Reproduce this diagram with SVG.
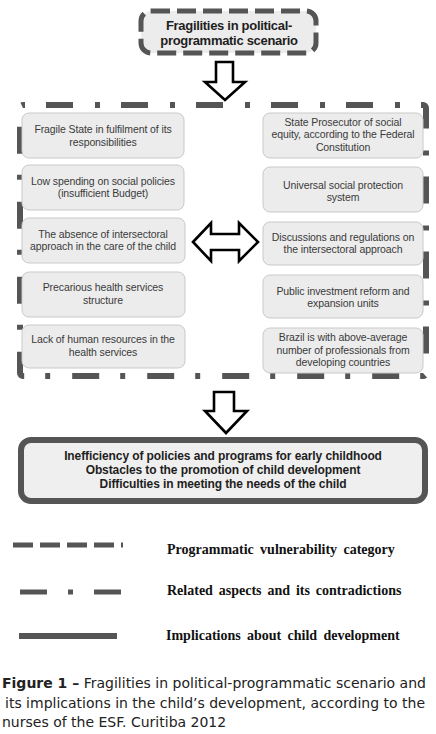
<svg xmlns="http://www.w3.org/2000/svg" width="436" height="734" viewBox="0 0 436 734">
<style>
.bg{fill:#ffffff}
.item{fill:#ececec;stroke:#c9c9c9;stroke-width:1}
.it{font-family:"Liberation Sans",Arial,sans-serif;font-size:10.5px;fill:#3a3a3a;text-anchor:middle;letter-spacing:-0.1px}
.hb{font-family:"Liberation Sans",Arial,sans-serif;font-weight:bold;fill:#1e1e1e;text-anchor:middle}
.arrow{fill:#ffffff;stroke:#000000;stroke-width:2.6;stroke-linejoin:miter}
.leg{font-family:"Liberation Serif","Times New Roman",serif;font-weight:bold;font-size:14px;fill:#111}
.cap{font-family:"DejaVu Sans",Verdana,sans-serif;font-size:14px;fill:#222}
</style>
<rect class="bg" x="0" y="0" width="436" height="734"/>

<g id="top">
<rect x="141" y="11" width="175" height="42" rx="10" fill="#ececec" stroke="#555" stroke-width="5" stroke-dasharray="19 7"/>
<text class="hb" font-size="13" letter-spacing="-0.3" x="229" y="30">Fragilities in political-</text>
<text class="hb" font-size="13" letter-spacing="-0.3" x="229" y="45">programmatic scenario</text>
</g>

<g id="frame">
<rect x="20" y="105" width="406" height="271" rx="3" fill="none" stroke="#555" stroke-width="6" stroke-dasharray="27 22 5 21" stroke-dashoffset="52"/>
</g>

<g id="left1"><rect class="item" x="22" y="113" width="162" height="45" rx="7"/>
<text class="it" x="103" y="133">Fragile State in fulfilment of its</text>
<text class="it" x="103" y="146">responsibilities</text></g>
<g id="left2"><rect class="item" x="22" y="165" width="162" height="45" rx="7"/>
<text class="it" x="103" y="185">Low spending on social policies</text>
<text class="it" x="103" y="197">(insufficient Budget)</text></g>
<g id="left3"><rect class="item" x="22" y="218" width="163" height="45" rx="7"/>
<text class="it" x="103" y="238">The absence of intersectoral</text>
<text class="it" x="103" y="250">approach in the care of the child</text></g>
<g id="left4"><rect class="item" x="22" y="272" width="163" height="45" rx="7"/>
<text class="it" x="103" y="291">Precarious health services</text>
<text class="it" x="103" y="304">structure</text></g>
<g id="left5"><rect class="item" x="22" y="325" width="163" height="43" rx="7"/>
<text class="it" x="103" y="343">Lack of human resources in the</text>
<text class="it" x="103" y="356">health services</text></g>

<g id="right1"><rect class="item" x="263" y="113" width="160" height="45" rx="7"/>
<text class="it" x="343" y="126">State Prosecutor of social</text>
<text class="it" x="343" y="138">equity, according to the Federal</text>
<text class="it" x="343" y="151">Constitution</text></g>
<g id="right2"><rect class="item" x="263" y="167" width="160" height="45" rx="7"/>
<text class="it" x="343" y="189">Universal social protection</text>
<text class="it" x="343" y="201">system</text></g>
<g id="right3"><rect class="item" x="263" y="222" width="160" height="43" rx="7"/>
<text class="it" x="343" y="241">Discussions and regulations on</text>
<text class="it" x="343" y="253">the intersectoral approach</text></g>
<g id="right4"><rect class="item" x="263" y="275" width="160" height="43" rx="7"/>
<text class="it" x="343" y="295">Public investment reform and</text>
<text class="it" x="343" y="307">expansion units</text></g>
<g id="right5"><rect class="item" x="263" y="328" width="160" height="45" rx="7"/>
<text class="it" x="343" y="341">Brazil is with above-average</text>
<text class="it" x="343" y="354">number of professionals from</text>
<text class="it" x="343" y="366">developing countries</text></g>

<g id="bottom">
<rect x="21" y="440" width="404" height="61" rx="10" fill="#efefef" stroke="#555" stroke-width="6"/>
<text class="hb" font-size="12" letter-spacing="-0.1" x="223" y="460">Inefficiency of policies and programs for early childhood</text>
<text class="hb" font-size="12" letter-spacing="-0.1" x="223" y="474">Obstacles to the promotion of child development</text>
<text class="hb" font-size="12" letter-spacing="-0.1" x="223" y="488">Difficulties in meeting the needs of the child</text>
</g>

<g id="connectors">
<path class="arrow" d="M216,62 H233 V82 H245 L225,100 L205,82 H216 Z"/>
<path class="arrow" d="M193,242 L211,223 V234 H239 V223 L258,242 L239,261 V250 H211 V261 Z"/>
<path class="arrow" d="M214,392 H234 V411 H247 L226,433 L205,411 H214 Z"/>
</g>

<g id="legend">
<line x1="13" y1="545" x2="123" y2="545" stroke="#555" stroke-width="5" stroke-dasharray="20 7"/>
<text class="leg" x="167" y="554" word-spacing="2.8">Programmatic vulnerability category</text>
<line x1="20" y1="592" x2="121" y2="592" stroke="#555" stroke-width="5" stroke-dasharray="27 21 5 21"/>
<text class="leg" x="167" y="595" word-spacing="2.4">Related aspects and its contradictions</text>
<line x1="19" y1="636" x2="117" y2="636" stroke="#555" stroke-width="6"/>
<text class="leg" x="166" y="640" word-spacing="2.8">Implications about child development</text>
</g>

<g id="caption">
<text class="cap" x="2" y="688"><tspan font-weight="bold">Figure 1 –</tspan> Fragilities in political-programmatic scenario and</text>
<text class="cap" x="5" y="708">its implications in the child’s development, according  to the</text>
<text class="cap" x="2" y="727">nurses of the ESF. Curitiba 2012</text>
</g>
</svg>
